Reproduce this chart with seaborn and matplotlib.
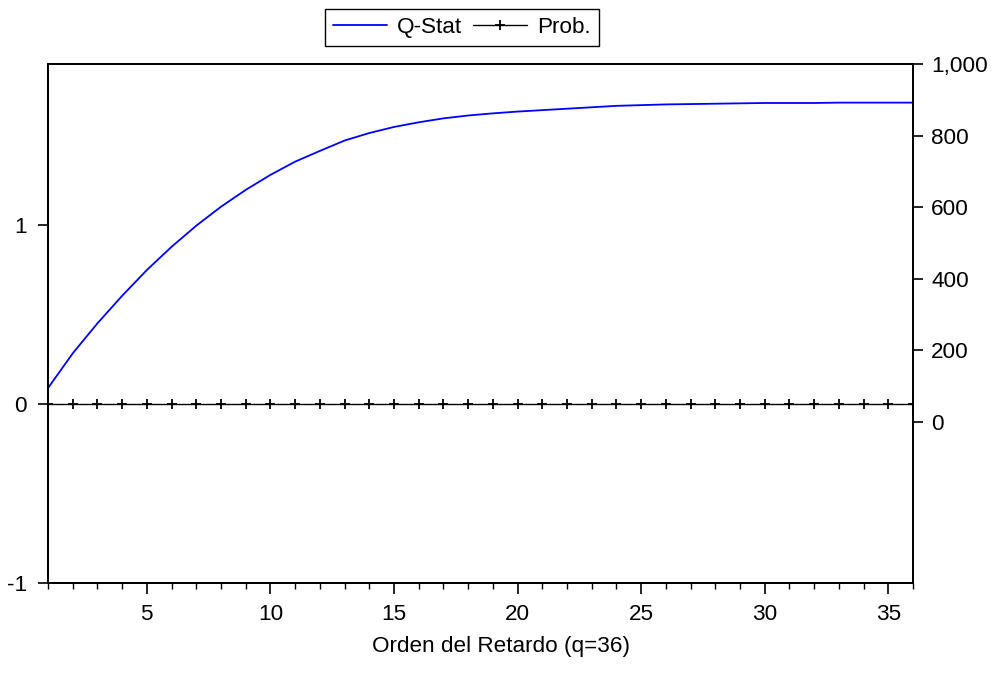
import numpy as np
import pandas as pd
import matplotlib
matplotlib.use("Agg")
import matplotlib.pyplot as plt
from matplotlib.ticker import FuncFormatter, MultipleLocator
import seaborn as sns

# Correlogram summary: Ljung-Box Q-statistic and its p-value by lag order
lags = list(range(1, 37))
q_stat = [94, 191, 275, 352, 424, 489, 548, 601, 648, 690,
          727, 757, 786, 807, 824, 837, 848, 856, 862, 867,
          871, 875, 879, 883, 885, 887, 888, 889, 890, 891,
          891, 891, 892, 892, 892, 892]
prob = [0.0, 0.0, 0.0, 0.0, 0.0, 0.0, 0.0, 0.0, 0.0, 0.0,
        0.0, 0.0, 0.0, 0.0, 0.0, 0.0, 0.0, 0.0, 0.0, 0.0,
        0.0, 0.0, 0.0, 0.0, 0.0, 0.0, 0.0, 0.0, 0.0, 0.0,
        0.0, 0.0, 0.0, 0.0, 0.0, 0.0]
left_ticks = [-1, 0, 1]
right_ticks = [0, 200, 400, 600, 800, 1000]
x_label = "Orden del Retardo (q=36)"

df = pd.DataFrame({"lag": lags, "Q-Stat": q_stat, "Prob.": prob})

sns.set_style("ticks")
plt.rcParams["font.family"] = ["Liberation Sans", "DejaVu Sans"]
plt.rcParams["axes.unicode_minus"] = False
plt.rcParams["axes.linewidth"] = 1.3
for key in ("text.color", "axes.labelcolor", "xtick.color", "ytick.color",
            "xtick.labelcolor", "ytick.labelcolor"):
    plt.rcParams[key] = "black"

fig = plt.figure(figsize=(9.96, 6.73), dpi=100)
ax = fig.add_axes([48 / 996, 1 - 583 / 673, (913 - 48) / 996, (583 - 64) / 673])
ax2 = ax.twinx()

# Prob. on the left axis, Q-Stat on the right axis
sns.lineplot(data=df, x="lag", y="Prob.", ax=ax, color="black", lw=1.0,
             marker="+", markersize=7, markeredgewidth=1.3,
             markeredgecolor="black", legend=False)
sns.lineplot(data=df, x="lag", y="Q-Stat", ax=ax2, color="#0000ff", lw=1.3,
             legend=False)

ax.set_xlim(1, 36)
ax.set_ylim(-1, 1.9)
ax2.set_ylim(-451, 1000)

ax.set_yticks(left_ticks)
ax.yaxis.set_major_formatter(FuncFormatter(lambda v, p: f"{v:g}"))
ax2.set_yticks(right_ticks)
ax2.yaxis.set_major_formatter(FuncFormatter(lambda v, p: f"{int(v):,}"))

ax.xaxis.set_major_locator(MultipleLocator(5))
ax.xaxis.set_minor_locator(MultipleLocator(1))

fs = 16.2
ax.tick_params(axis="x", which="major", length=8, width=1.2, labelsize=fs,
               pad=7, direction="out", colors="black")
ax.tick_params(axis="x", which="minor", length=4, width=1.0, direction="out",
               colors="black")
ax.tick_params(axis="y", which="major", length=7, width=1.2, labelsize=fs,
               pad=8, direction="out", colors="black")
ax2.tick_params(axis="y", which="major", length=7, width=1.2, labelsize=fs,
                pad=6, direction="out", colors="black")

ax.set_xlabel(x_label, fontsize=fs, color="black")
ax.xaxis.set_label_coords((501 - 48) / 865, -53 / 519)
ax.set_ylabel("")
ax2.set_ylabel("")

for a in (ax, ax2):
    for s in a.spines.values():
        s.set_color("black")
        s.set_linewidth(1.3)

handles = [ax2.get_lines()[0], ax.get_lines()[0]]
leg = fig.legend(handles, ["Q-Stat", "Prob."], loc="center",
                 bbox_to_anchor=(462 / 996, 1 - 27.5 / 673), ncol=2,
                 fontsize=fs, frameon=True, fancybox=False, framealpha=1,
                 edgecolor="black", handlelength=2.4, handletextpad=0.45,
                 columnspacing=0.5, borderpad=0.35, borderaxespad=0)
leg.get_frame().set_linewidth(1.0)
for t in leg.get_texts():
    t.set_color("black")

fig.savefig("out.png", dpi=100)
